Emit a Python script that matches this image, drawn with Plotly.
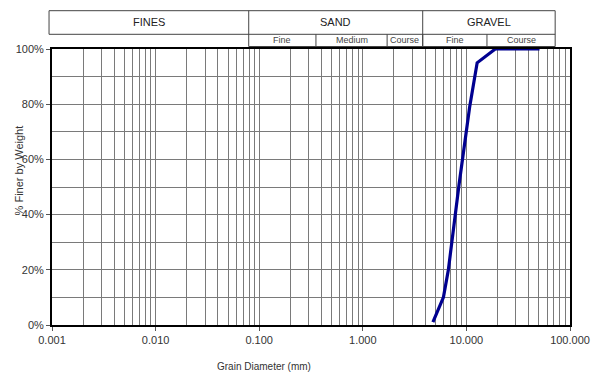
import plotly.graph_objects as go

# ---- data ----
grain_mm = [4.75, 6.0, 6.7, 7.45, 8.5, 10.75, 12.7, 19.0, 50.8]
pct_finer = [1, 10, 20, 34, 51, 79, 95, 100, 100]

x_tick_vals = [0.001, 0.01, 0.1, 1, 10, 100]
x_tick_text = ["0.001", "0.010", "0.100", "1.000", "10.000", "100.000"]
minor_vals = [m * 10.0 ** e for e in range(-3, 2) for m in range(2, 10)]

main_groups = ["FINES", "SAND", "GRAVEL"]
sub_groups = ["Fine", "Medium", "Course", "Fine", "Course"]

W, H = 602, 374
L, R, T, B = 52, 26, 49, 49
PW, PH = W - L - R, H - T - B


def px(xp):
    return (xp - L) / PW


def py(yp):
    return (H - B - yp) / PH


fig = go.Figure()
fig.add_trace(go.Scatter(
    x=grain_mm, y=pct_finer, mode="lines",
    line=dict(color="#000090", width=3.2),
    showlegend=False, hoverinfo="x+y",
))

font = "Liberation Sans, Arial, sans-serif"
grid_col = "#7a7a7a"

fig.update_layout(
    width=W, height=H,
    margin=dict(l=L, r=R, t=T, b=B),
    paper_bgcolor="white", plot_bgcolor="white",
    font=dict(family=font, size=11, color="#333333"),
    xaxis=dict(
        type="log", range=[-3, 2],
        tickmode="array", tickvals=x_tick_vals, ticktext=x_tick_text,
        ticks="outside", ticklen=4, tickcolor="#555555",
        showgrid=True, gridcolor=grid_col, gridwidth=1,
        minor=dict(tickmode="array", tickvals=minor_vals, showgrid=True,
                   gridcolor=grid_col, gridwidth=1, ticks=""),
        showline=True, linecolor="black", linewidth=2, mirror=True,
        zeroline=False, tickfont=dict(size=11),
    ),
    yaxis=dict(
        range=[0, 100], tickmode="linear", tick0=0, dtick=20, ticksuffix="%",
        ticks="outside", ticklen=4, tickcolor="#555555",
        showgrid=True, gridcolor=grid_col, gridwidth=1,
        minor=dict(dtick=10, showgrid=True, gridcolor=grid_col, gridwidth=1, ticks=""),
        showline=True, linecolor="black", linewidth=2, mirror=True,
        zeroline=False, tickfont=dict(size=11),
    ),
)

# ---- header boxes (soil classification) ----
box_col = "#444444"
top_y, mid_y, bot_y = 10.7, 34.3, 46.5
x_left, x_fs, x_sg, x_right = 49, 251, 427, 561
sub_x = [251, 319, 391, 427, 492, 561]


def seg(x0, y0, x1, y1):
    fig.add_shape(type="line", xref="paper", yref="paper",
                  x0=px(x0), y0=py(y0), x1=px(x1), y1=py(y1),
                  line=dict(color=box_col, width=1))


seg(x_left, top_y, x_right, top_y)
seg(x_left, mid_y, x_right, mid_y)
seg(x_fs, bot_y, x_right, bot_y)
seg(x_left, top_y, x_left, mid_y)
seg(x_right, top_y, x_right, bot_y)
seg(x_fs, top_y, x_fs, bot_y)
seg(x_sg, top_y, x_sg, bot_y)
for xv in sub_x[1:-1]:
    seg(xv, mid_y, xv, bot_y)


def label(xp, yp, text, size, angle=0, color="#222222"):
    fig.add_annotation(x=px(xp), y=py(yp), xref="paper", yref="paper",
                       text=text, showarrow=False, textangle=angle,
                       xanchor="center", yanchor="middle",
                       font=dict(size=size, color=color))


main_edges = [x_left, x_fs, x_sg, x_right]
for i, name in enumerate(main_groups):
    label((main_edges[i] + main_edges[i + 1]) / 2, (top_y + mid_y) / 2, name, 11)
for i, name in enumerate(sub_groups):
    label((sub_x[i] + sub_x[i + 1]) / 2, (mid_y + bot_y) / 2, name, 9, color="#444444")

# axis titles
label(266, 366, "Grain Diameter (mm)", 10, color="#333333")
label(19, 170, "% Finer by Weight", 11, angle=-90, color="#333333")

fig.write_html("out.html", config={"displayModeBar": False},
               post_script="document.body.style.margin='0';")
